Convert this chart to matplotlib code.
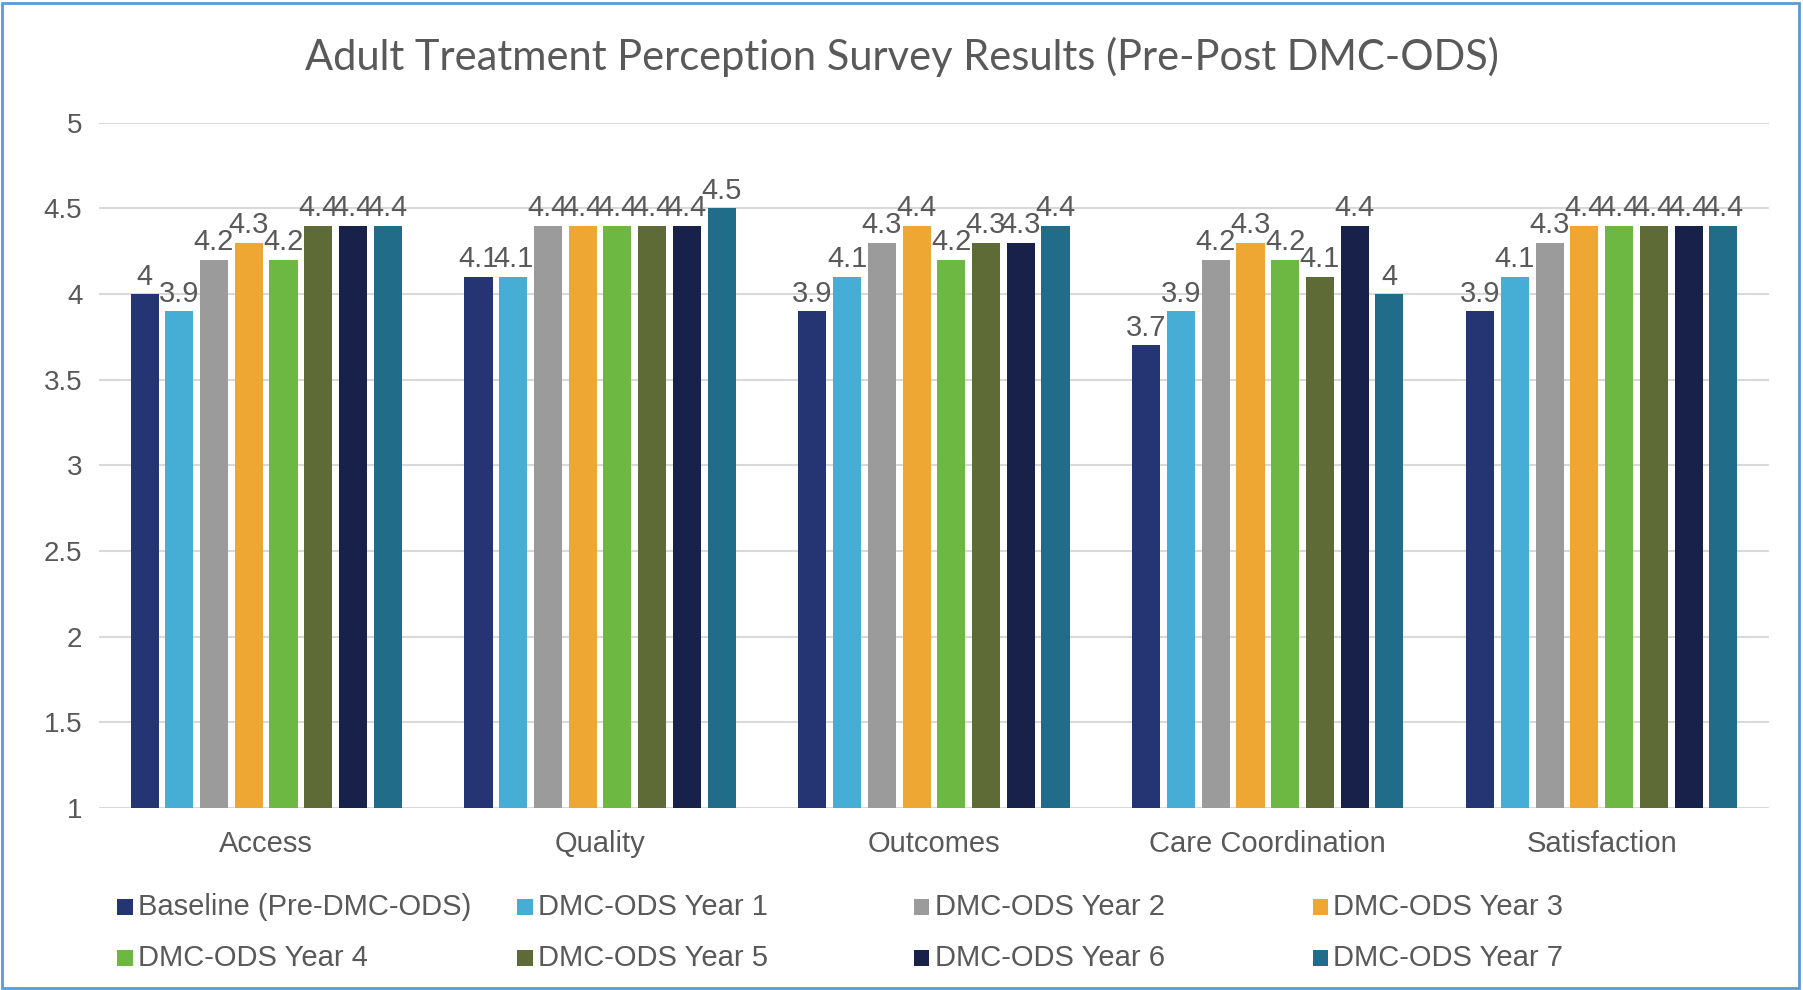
import matplotlib
matplotlib.use('Agg')
import matplotlib.pyplot as plt
from matplotlib.patches import Rectangle
import numpy as np

# ---------------------- Data

categories = ['Access', 'Quality', 'Outcomes', 'Care Coordination', 'Satisfaction']
series_names = ['Baseline (Pre-DMC-ODS)', 'DMC-ODS Year 1', 'DMC-ODS Year 2', 'DMC-ODS Year 3',
                'DMC-ODS Year 4', 'DMC-ODS Year 5', 'DMC-ODS Year 6', 'DMC-ODS Year 7']
baseline = [4.0, 4.1, 3.9, 3.7, 3.9]
year1 = [3.9, 4.1, 4.1, 3.9, 4.1]
year2 = [4.2, 4.4, 4.3, 4.2, 4.3]
year3 = [4.3, 4.4, 4.4, 4.3, 4.4]
year4 = [4.2, 4.4, 4.2, 4.2, 4.4]
year5 = [4.4, 4.4, 4.3, 4.1, 4.4]
year6 = [4.4, 4.4, 4.3, 4.4, 4.4]
year7 = [4.4, 4.5, 4.4, 4.0, 4.4]
series = [baseline, year1, year2, year3, year4, year5, year6, year7]

colors = ['#253473', '#46AED5', '#9B9B9B', '#EDA732',
          '#6DB843', '#5E6B37', '#172149', '#216C88']
txt = '#595959'
fnt = 'Liberation Sans'

# ---------------------- Figure

fig = plt.figure(figsize=(18.03, 9.9), dpi=100)
ax = fig.add_axes([0.055, 0.184, 0.926, 0.692])

x = np.arange(len(categories))
pitch = 0.104
width = 0.084
for i, vals in enumerate(series):
    xs = x + (i - 3.5) * pitch
    ax.bar(xs, np.array(vals) - 1, width=width, bottom=1, color=colors[i], zorder=3)
    for xi, v in zip(xs, vals):
        ax.text(xi, v + 0.02, '%g' % v, ha='center', va='bottom',
                fontsize=21, color=txt, family=fnt, zorder=4)

ax.set_ylim(1, 5)
ax.set_xlim(-0.5, len(categories) - 0.5)
ticks = np.arange(1, 5.01, 0.5)
ax.set_yticks(ticks)
ax.set_yticklabels(['%g' % t for t in ticks])
ax.set_xticks(x)
ax.set_xticklabels(categories)
for lab in ax.get_yticklabels():
    lab.set_family(fnt)
    lab.set_fontsize(20)
    lab.set_color(txt)
for lab in ax.get_xticklabels():
    lab.set_family(fnt)
    lab.set_fontsize(21)
    lab.set_color(txt)
ax.tick_params(length=0, pad=12)
ax.tick_params(axis='x', pad=16)
ax.yaxis.grid(True, color='#D9D9D9', linewidth=1.5, zorder=0)
for s in ax.spines.values():
    s.set_visible(False)

fig.text(0.5, 0.942, 'Adult Treatment Perception Survey Results (Pre-Post DMC-ODS)',
         ha='center', va='center', fontsize=30, color=txt, family='Lato',
         fontweight='normal')

# legend, two rows of four equally spaced entries
col_x = [0.065, 0.287, 0.507, 0.728]
row_y = [0.084, 0.032]
for i, name in enumerate(series_names):
    cx = col_x[i % 4]
    cy = row_y[i // 4]
    fig.patches.append(Rectangle((cx, cy - 0.008), 0.0085, 0.016, transform=fig.transFigure,
                                 facecolor=colors[i], edgecolor='none'))
    fig.text(cx + 0.0115, cy, name, ha='left', va='center', fontsize=21,
             color=txt, family=fnt)

fig.patches.append(Rectangle((0.001, 0.002), 0.997, 0.995, transform=fig.transFigure,
                             facecolor='none', edgecolor='#5B9BD5', linewidth=2))

plt.savefig('out.png', dpi=100)
